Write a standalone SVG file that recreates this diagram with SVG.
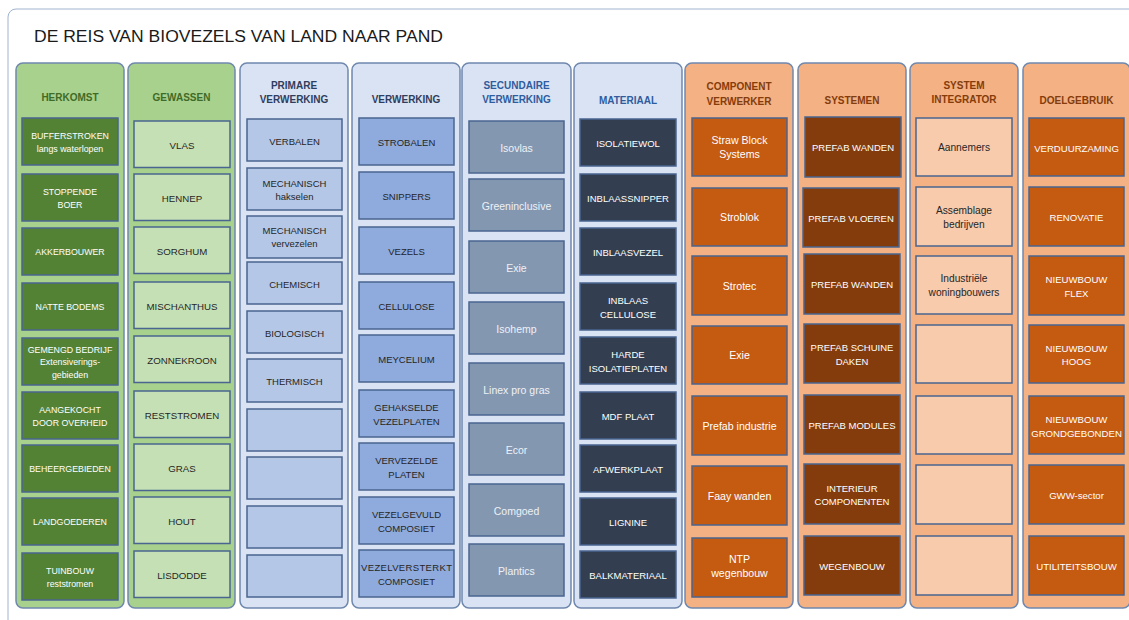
<svg xmlns="http://www.w3.org/2000/svg" width="1129" height="620" viewBox="0 0 1129 620">
<style>
text{font-family:"Liberation Sans",Arial,sans-serif;text-anchor:middle}
.title{font-size:17.4px;fill:#1a1a1a;text-anchor:start}
.col{stroke:#6f88ae;stroke-width:1.5}
.cg{fill:#a9d18e}.cb{fill:#dae3f3}.co{fill:#f4b183}
.hd{font-size:10px;font-weight:bold}
.hg{fill:#3f6b26}.hn{fill:#2f3d5e}.hb{fill:#2e5c9e}.ho{fill:#843c0c}
.bx{stroke:#4a6590;stroke-width:1.5}
.b1{fill:#548235}.b2{fill:#c5e0b4}.b3{fill:#b4c7e7}.b4{fill:#8faadc}.b5{fill:#8497b0}
.b6{fill:#333f50}.b7{fill:#c55a11}.b8{fill:#843c0c}.b9{fill:#f8cbad}.b10{fill:#c55a11}
.tw{fill:#ffffff}.tl{fill:#edf1f7}.td{fill:#262626}
.f1{font-size:8.8px}.f2{font-size:9.7px}.f3{font-size:9.5px}.f5{font-size:10.5px}.f7{font-size:10.6px}.f9{font-size:10.2px}.f10{font-size:9.6px}
</style>
<rect x="0" y="0" width="1129" height="620" fill="#ffffff"/>
<rect x="8" y="9" width="1150" height="640" rx="8" fill="#ffffff" stroke="#9fb3cf" stroke-width="1"/>
<text class="title" x="34" y="42" textLength="409" lengthAdjust="spacingAndGlyphs">DE REIS VAN BIOVEZELS VAN LAND NAAR PAND</text>

<g id="col-herkomst">
<rect class="col cg" x="16" y="63" width="108" height="545" rx="7"/>
<text class="hd hg" x="70" y="100.5">HERKOMST</text>
<g id="n-bufferstroken"><rect class="bx b1" x="22" y="118" width="96" height="47"/><text class="f1 tw" x="70" y="139">BUFFERSTROKEN</text><text class="f1 tw" x="70" y="151.5">langs waterlopen</text></g>
<g id="n-stoppende-boer"><rect class="bx b1" x="22" y="174" width="96" height="47"/><text class="f1 tw" x="70" y="195">STOPPENDE</text><text class="f1 tw" x="70" y="207.5">BOER</text></g>
<g id="n-akkerbouwer"><rect class="bx b1" x="22" y="228" width="96" height="47"/><text class="f1 tw" x="70" y="255.2">AKKERBOUWER</text></g>
<g id="n-natte-bodems"><rect class="bx b1" x="22" y="283" width="96" height="47"/><text class="f1 tw" x="70" y="310.2">NATTE BODEMS</text></g>
<g id="n-gemengd"><rect class="bx b1" x="22" y="338" width="96" height="47"/><text class="f1 tw" x="70" y="352.5">GEMENGD BEDRIJF</text><text class="f1 tw" x="70" y="365">Extensiverings-</text><text class="f1 tw" x="70" y="377.5">gebieden</text></g>
<g id="n-aangekocht"><rect class="bx b1" x="22" y="392" width="96" height="47"/><text class="f1 tw" x="70" y="413">AANGEKOCHT</text><text class="f1 tw" x="70" y="425.5">DOOR OVERHEID</text></g>
<g id="n-beheergebieden"><rect class="bx b1" x="22" y="445" width="96" height="47"/><text class="f1 tw" x="70" y="472.2">BEHEERGEBIEDEN</text></g>
<g id="n-landgoederen"><rect class="bx b1" x="22" y="498" width="96" height="47"/><text class="f1 tw" x="70" y="525.2">LANDGOEDEREN</text></g>
<g id="n-tuinbouw"><rect class="bx b1" x="22" y="553" width="96" height="47"/><text class="f1 tw" x="70" y="574">TUINBOUW</text><text class="f1 tw" x="70" y="586.5">reststromen</text></g>
</g>

<g id="col-gewassen">
<rect class="col cg" x="128" y="63" width="107" height="545" rx="7"/>
<text class="hd hg" x="181.5" y="100.5">GEWASSEN</text>
<g id="n-vlas"><rect class="bx b2" x="134" y="121" width="96" height="46.5"/><text class="f2 td" x="182" y="148.5">VLAS</text></g>
<g id="n-hennep"><rect class="bx b2" x="134" y="174" width="96" height="46.5"/><text class="f2 td" x="182" y="201.5">HENNEP</text></g>
<g id="n-sorghum"><rect class="bx b2" x="134" y="227" width="96" height="46.5"/><text class="f2 td" x="182" y="254.5">SORGHUM</text></g>
<g id="n-mischanthus"><rect class="bx b2" x="134" y="282" width="96" height="46.5"/><text class="f2 td" x="182" y="309.5">MISCHANTHUS</text></g>
<g id="n-zonnekroon"><rect class="bx b2" x="134" y="336" width="96" height="46.5"/><text class="f2 td" x="182" y="363.5">ZONNEKROON</text></g>
<g id="n-reststromen"><rect class="bx b2" x="134" y="391" width="96" height="46.5"/><text class="f2 td" x="182" y="418.5">RESTSTROMEN</text></g>
<g id="n-gras"><rect class="bx b2" x="134" y="444" width="96" height="46.5"/><text class="f2 td" x="182" y="471.5">GRAS</text></g>
<g id="n-hout"><rect class="bx b2" x="134" y="497" width="96" height="46.5"/><text class="f2 td" x="182" y="524.5">HOUT</text></g>
<g id="n-lisdodde"><rect class="bx b2" x="134" y="551" width="96" height="46.5"/><text class="f2 td" x="182" y="578.5">LISDODDE</text></g>
</g>

<g id="col-primare-verwerking">
<rect class="col cb" x="240" y="63" width="108" height="545" rx="7"/>
<text class="hd hn" x="294" y="88.5">PRIMARE</text><text class="hd hn" x="294" y="102.5">VERWERKING</text>
<g id="n-verbalen"><rect class="bx b3" x="247" y="119" width="95" height="42"/><text class="f3 td" x="294.5" y="144.5">VERBALEN</text></g>
<g id="n-mech-hakselen"><rect class="bx b3" x="247" y="168" width="95" height="42"/><text class="f3 td" x="294.5" y="186.5">MECHANISCH</text><text class="f3 td" x="294.5" y="199.5">hakselen</text></g>
<g id="n-mech-vervezelen"><rect class="bx b3" x="247" y="216" width="95" height="42"/><text class="f3 td" x="294.5" y="234">MECHANISCH</text><text class="f3 td" x="294.5" y="247">vervezelen</text></g>
<g id="n-chemisch"><rect class="bx b3" x="247" y="262" width="95" height="42"/><text class="f3 td" x="294.5" y="287.5">CHEMISCH</text></g>
<g id="n-biologisch"><rect class="bx b3" x="247" y="311" width="95" height="42"/><text class="f3 td" x="294.5" y="336.5">BIOLOGISCH</text></g>
<g id="n-thermisch"><rect class="bx b3" x="247" y="359" width="95" height="43"/><text class="f3 td" x="294.5" y="385">THERMISCH</text></g>
<g id="n-prim-empty1"><rect class="bx b3" x="247" y="409" width="95" height="42"/></g>
<g id="n-prim-empty2"><rect class="bx b3" x="247" y="457" width="95" height="42"/></g>
<g id="n-prim-empty3"><rect class="bx b3" x="247" y="506" width="95" height="42"/></g>
<g id="n-prim-empty4"><rect class="bx b3" x="247" y="555" width="95" height="42"/></g>
</g>

<g id="col-verwerking">
<rect class="col cb" x="352" y="63" width="108" height="545" rx="7"/>
<text class="hd hn" x="406" y="102.5">VERWERKING</text>
<g id="n-strobalen"><rect class="bx b4" x="359" y="118" width="95" height="47"/><text class="f3 td" x="406.5" y="145.8">STROBALEN</text></g>
<g id="n-snippers"><rect class="bx b4" x="359" y="172" width="95" height="47"/><text class="f3 td" x="406.5" y="199.8">SNIPPERS</text></g>
<g id="n-vezels"><rect class="bx b4" x="359" y="227" width="95" height="47"/><text class="f3 td" x="406.5" y="254.8">VEZELS</text></g>
<g id="n-cellulose"><rect class="bx b4" x="359" y="282" width="95" height="47"/><text class="f3 td" x="406.5" y="309.8">CELLULOSE</text></g>
<g id="n-meycelium"><rect class="bx b4" x="359" y="335" width="95" height="47"/><text class="f3 td" x="406.5" y="362.8">MEYCELIUM</text></g>
<g id="n-gehakselde"><rect class="bx b4" x="359" y="390" width="95" height="47"/><text class="f3 td" x="406.5" y="411">GEHAKSELDE</text><text class="f3 td" x="406.5" y="424.5">VEZELPLATEN</text></g>
<g id="n-vervezelde"><rect class="bx b4" x="359" y="443" width="95" height="47"/><text class="f3 td" x="406.5" y="464">VERVEZELDE</text><text class="f3 td" x="406.5" y="477.5">PLATEN</text></g>
<g id="n-vezelgevuld"><rect class="bx b4" x="359" y="497" width="95" height="47"/><text class="f3 td" x="406.5" y="518">VEZELGEVULD</text><text class="f3 td" x="406.5" y="531.5">COMPOSIET</text></g>
<g id="n-vezelversterkt"><rect class="bx b4" x="359" y="550" width="95" height="47"/><text class="f3 td" x="406.5" y="571" textLength="91">VEZELVERSTERKT</text><text class="f3 td" x="406.5" y="584.5">COMPOSIET</text></g>
</g>

<g id="col-secundaire-verwerking">
<rect class="col cb" x="462" y="63" width="109" height="545" rx="7"/>
<text class="hd hb" x="516.5" y="88.5">SECUNDAIRE</text><text class="hd hb" x="516.5" y="102.5">VERWERKING</text>
<g id="n-isovlas"><rect class="bx b5" x="469" y="121" width="95" height="52"/><text class="f5 tl" x="516.5" y="151.5">Isovlas</text></g>
<g id="n-greeninclusive"><rect class="bx b5" x="469" y="179" width="95" height="52"/><text class="f5 tl" x="516.5" y="209.5">Greeninclusive</text></g>
<g id="n-exie-sec"><rect class="bx b5" x="469" y="241" width="95" height="52"/><text class="f5 tl" x="516.5" y="271.5">Exie</text></g>
<g id="n-isohemp"><rect class="bx b5" x="469" y="302" width="95" height="52"/><text class="f5 tl" x="516.5" y="332.5">Isohemp</text></g>
<g id="n-linex"><rect class="bx b5" x="469" y="363" width="95" height="52"/><text class="f5 tl" x="516.5" y="393.5">Linex pro gras</text></g>
<g id="n-ecor"><rect class="bx b5" x="469" y="423" width="95" height="52"/><text class="f5 tl" x="516.5" y="453.5">Ecor</text></g>
<g id="n-comgoed"><rect class="bx b5" x="469" y="484" width="95" height="52"/><text class="f5 tl" x="516.5" y="514.5">Comgoed</text></g>
<g id="n-plantics"><rect class="bx b5" x="469" y="544" width="95" height="52"/><text class="f5 tl" x="516.5" y="574.5">Plantics</text></g>
</g>

<g id="col-materiaal">
<rect class="col cb" x="574" y="63" width="108" height="545" rx="7"/>
<text class="hd hb" x="628" y="103.5">MATERIAAL</text>
<g id="n-isolatiewol"><rect class="bx b6" x="580" y="119" width="96" height="47"/><text class="f3 tw" x="628" y="146.8">ISOLATIEWOL</text></g>
<g id="n-inblaassnipper"><rect class="bx b6" x="580" y="174" width="96" height="47"/><text class="f3 tw" x="628" y="201.8">INBLAASSNIPPER</text></g>
<g id="n-inblaasvezel"><rect class="bx b6" x="580" y="228" width="96" height="47"/><text class="f3 tw" x="628" y="255.8">INBLAASVEZEL</text></g>
<g id="n-inblaas-cellulose"><rect class="bx b6" x="580" y="283" width="96" height="47"/><text class="f3 tw" x="628" y="304">INBLAAS</text><text class="f3 tw" x="628" y="317.5">CELLULOSE</text></g>
<g id="n-harde"><rect class="bx b6" x="580" y="337" width="96" height="47"/><text class="f3 tw" x="628" y="358">HARDE</text><text class="f3 tw" x="628" y="371.5">ISOLATIEPLATEN</text></g>
<g id="n-mdf"><rect class="bx b6" x="580" y="392" width="96" height="47"/><text class="f3 tw" x="628" y="419.8">MDF PLAAT</text></g>
<g id="n-afwerkplaat"><rect class="bx b6" x="580" y="445" width="96" height="47"/><text class="f3 tw" x="628" y="472.8">AFWERKPLAAT</text></g>
<g id="n-lignine"><rect class="bx b6" x="580" y="498" width="96" height="47"/><text class="f3 tw" x="628" y="525.8">LIGNINE</text></g>
<g id="n-balkmateriaal"><rect class="bx b6" x="580" y="551" width="96" height="47"/><text class="f3 tw" x="628" y="578.8">BALKMATERIAAL</text></g>
</g>

<g id="col-component-verwerker">
<rect class="col co" x="685" y="63" width="108" height="545" rx="7"/>
<text class="hd ho" x="739" y="90">COMPONENT</text><text class="hd ho" x="739" y="104.5">VERWERKER</text>
<g id="n-straw-block"><rect class="bx b7" x="692" y="118" width="95" height="58"/><text class="f7 tw" x="739.5" y="144.3">Straw Block</text><text class="f7 tw" x="739.5" y="158.3">Systems</text></g>
<g id="n-stroblok"><rect class="bx b7" x="692" y="188" width="95" height="58"/><text class="f7 tw" x="739.5" y="221.3">Stroblok</text></g>
<g id="n-strotec"><rect class="bx b7" x="692" y="256" width="95" height="59"/><text class="f7 tw" x="739.5" y="289.5">Strotec</text></g>
<g id="n-exie-comp"><rect class="bx b7" x="692" y="326" width="95" height="58"/><text class="f7 tw" x="739.5" y="359.3">Exie</text></g>
<g id="n-prefab-industrie"><rect class="bx b7" x="692" y="396" width="95" height="59"/><text class="f7 tw" x="739.5" y="429.8">Prefab industrie</text></g>
<g id="n-faay"><rect class="bx b7" x="692" y="466" width="95" height="59"/><text class="f7 tw" x="739.5" y="499.8">Faay wanden</text></g>
<g id="n-ntp"><rect class="bx b7" x="692" y="538" width="95" height="59"/><text class="f7 tw" x="739.5" y="562.5">NTP</text><text class="f7 tw" x="739.5" y="576.5">wegenbouw</text></g>
</g>

<g id="col-systemen">
<rect class="col co" x="798" y="63" width="108" height="545" rx="7"/>
<text class="hd ho" x="852" y="103.5">SYSTEMEN</text>
<g id="n-prefab-wanden-1"><rect class="bx b8" x="805" y="117" width="96" height="60"/><text class="f3 tw" x="853" y="150.8">PREFAB WANDEN</text></g>
<g id="n-prefab-vloeren"><rect class="bx b8" x="803" y="188" width="96" height="59"/><text class="f3 tw" x="851" y="221.8">PREFAB VLOEREN</text></g>
<g id="n-prefab-wanden-2"><rect class="bx b8" x="804" y="254" width="96" height="60"/><text class="f3 tw" x="852" y="288.3">PREFAB WANDEN</text></g>
<g id="n-prefab-daken"><rect class="bx b8" x="804" y="324" width="96" height="59"/><text class="f3 tw" x="852" y="351">PREFAB SCHUINE</text><text class="f3 tw" x="852" y="364.5">DAKEN</text></g>
<g id="n-prefab-modules"><rect class="bx b8" x="804" y="395" width="96" height="59"/><text class="f3 tw" x="852" y="428.8">PREFAB MODULES</text></g>
<g id="n-interieur"><rect class="bx b8" x="804" y="464" width="96" height="60"/><text class="f3 tw" x="852" y="491.5">INTERIEUR</text><text class="f3 tw" x="852" y="505">COMPONENTEN</text></g>
<g id="n-wegenbouw"><rect class="bx b8" x="804" y="536" width="96" height="59"/><text class="f3 tw" x="852" y="569.8">WEGENBOUW</text></g>
</g>

<g id="col-system-integrator">
<rect class="col co" x="910" y="63" width="108" height="545" rx="7"/>
<text class="hd ho" x="964" y="88.5">SYSTEM</text><text class="hd ho" x="964" y="102.5">INTEGRATOR</text>
<g id="n-aannemers"><rect class="bx b9" x="916" y="118" width="96" height="58"/><text class="f9 td" x="964" y="151">Aannemers</text></g>
<g id="n-assemblage"><rect class="bx b9" x="916" y="187" width="96" height="59"/><text class="f9 td" x="964" y="213.5">Assemblage</text><text class="f9 td" x="964" y="227.5">bedrijven</text></g>
<g id="n-industriele"><rect class="bx b9" x="916" y="256" width="96" height="58"/><text class="f9 td" x="964" y="282">Industriële</text><text class="f9 td" x="964" y="296">woningbouwers</text></g>
<g id="n-int-empty1"><rect class="bx b9" x="916" y="325" width="96" height="58"/></g>
<g id="n-int-empty2"><rect class="bx b9" x="916" y="396" width="96" height="58"/></g>
<g id="n-int-empty3"><rect class="bx b9" x="916" y="465" width="96" height="59"/></g>
<g id="n-int-empty4"><rect class="bx b9" x="916" y="536" width="96" height="59"/></g>
</g>

<g id="col-doelgebruik">
<rect class="col co" x="1023" y="63" width="107" height="545" rx="7"/>
<text class="hd ho" x="1076.5" y="103.5">DOELGEBRUIK</text>
<g id="n-verduurzaming"><rect class="bx b10" x="1029" y="118" width="95" height="58"/><text class="f10 tw" x="1076.5" y="151.5">VERDUURZAMING</text></g>
<g id="n-renovatie"><rect class="bx b10" x="1029" y="187" width="95" height="59"/><text class="f10 tw" x="1076.5" y="220.5">RENOVATIE</text></g>
<g id="n-nieuwbouw-flex"><rect class="bx b10" x="1029" y="256" width="95" height="59"/><text class="f10 tw" x="1076.5" y="282.8">NIEUWBOUW</text><text class="f10 tw" x="1076.5" y="296.5">FLEX</text></g>
<g id="n-nieuwbouw-hoog"><rect class="bx b10" x="1029" y="325" width="95" height="58"/><text class="f10 tw" x="1076.5" y="351.5">NIEUWBOUW</text><text class="f10 tw" x="1076.5" y="365.3">HOOG</text></g>
<g id="n-nieuwbouw-grond"><rect class="bx b10" x="1029" y="396" width="95" height="58"/><text class="f10 tw" x="1076.5" y="422.8">NIEUWBOUW</text><text class="f10 tw" x="1076.5" y="436.5">GRONDGEBONDEN</text></g>
<g id="n-gww"><rect class="bx b10" x="1029" y="465" width="95" height="59"/><text class="f10 tw" x="1076.5" y="498.5">GWW-sector</text></g>
<g id="n-utiliteitsbouw"><rect class="bx b10" x="1029" y="536" width="95" height="59"/><text class="f10 tw" x="1076.5" y="569.5">UTILITEITSBOUW</text></g>
</g>

<g id="connectors"></g>
</svg>
